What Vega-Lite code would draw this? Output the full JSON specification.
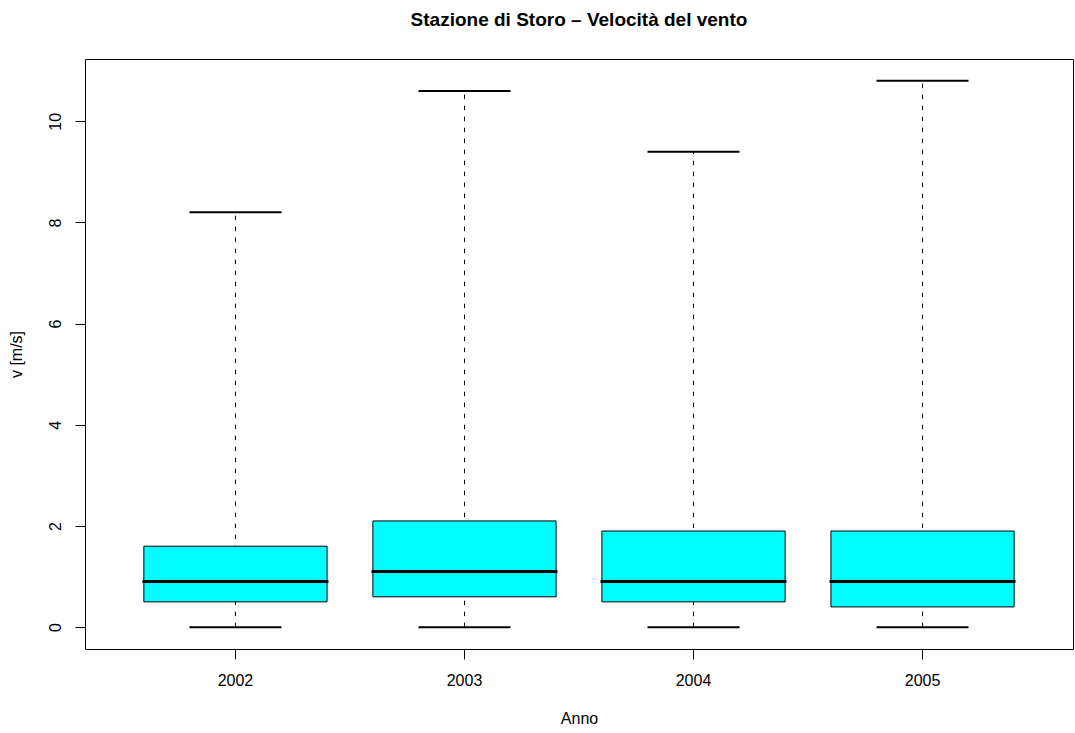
{
  "$schema": "https://vega.github.io/schema/vega-lite/v6.json",
  "autosize": "none",
  "padding": {"left": 85, "top": 59, "right": 2, "bottom": 84},
  "width": 988,
  "height": 590,
  "background": "white",
  "config": {
    "font": "Liberation Sans",
    "view": {"stroke": "black", "strokeWidth": 1},
    "axis": {"grid": false, "domain": false, "tickColor": "black", "tickSize": 10, "labelFontSize": 16, "labelColor": "black", "titleFontSize": 16, "titleFontWeight": "normal", "titleColor": "black"}
  },
  "title": {"text": "Stazione di Storo – Velocità del vento", "fontSize": 19, "fontWeight": "bold", "frame": "group", "anchor": "middle", "baseline": "alphabetic", "offset": 14, "color": "black"},
  "data": {"values": [
    {"year": "2002", "min": 0, "q1": 0.5, "median": 0.9, "q3": 1.6, "max": 8.2},
    {"year": "2003", "min": 0, "q1": 0.6, "median": 1.1, "q3": 2.1, "max": 10.6},
    {"year": "2004", "min": 0, "q1": 0.5, "median": 0.9, "q3": 1.9, "max": 9.4},
    {"year": "2005", "min": 0, "q1": 0.4, "median": 0.9, "q3": 1.9, "max": 10.8}
  ]},
  "encoding": {
    "x": {"field": "year", "type": "nominal", "sort": null,
      "scale": {"paddingInner": 0.2, "paddingOuter": 0.257},
      "axis": {"title": "Anno", "labelAngle": 0, "labelPadding": 13, "labelBaseline": "top", "titleY": 69, "titleBaseline": "middle"}}
  },
  "layer": [
    {"mark": {"type": "rule", "color": "black", "strokeWidth": 1, "strokeDash": [4.5, 6.5]},
     "encoding": {
       "y": {"field": "min", "type": "quantitative", "scale": {"domain": [-0.432, 11.232], "nice": false, "zero": false},
         "axis": {"title": "v [m/s]", "values": [0, 2, 4, 6, 8, 10], "labelAngle": 270, "labelAlign": "center", "labelBaseline": "alphabetic", "labelPadding": 15, "titleX": -69, "titleBaseline": "middle"}},
       "y2": {"field": "max"}}},
    {"mark": {"type": "tick", "color": "black", "opacity": 1, "size": 92, "thickness": 2, "orient": "horizontal"},
     "encoding": {"y": {"field": "min", "type": "quantitative"}}},
    {"mark": {"type": "tick", "color": "black", "opacity": 1, "size": 92, "thickness": 2, "orient": "horizontal"},
     "encoding": {"y": {"field": "max", "type": "quantitative"}}},
    {"mark": {"type": "bar", "fill": "#00FFFF", "stroke": "black", "strokeWidth": 1, "opacity": 1},
     "encoding": {"y": {"field": "q1", "type": "quantitative"}, "y2": {"field": "q3"}}},
    {"mark": {"type": "tick", "color": "black", "opacity": 1, "size": 186, "thickness": 3, "orient": "horizontal"},
     "encoding": {"y": {"field": "median", "type": "quantitative"}}}
  ]
}
